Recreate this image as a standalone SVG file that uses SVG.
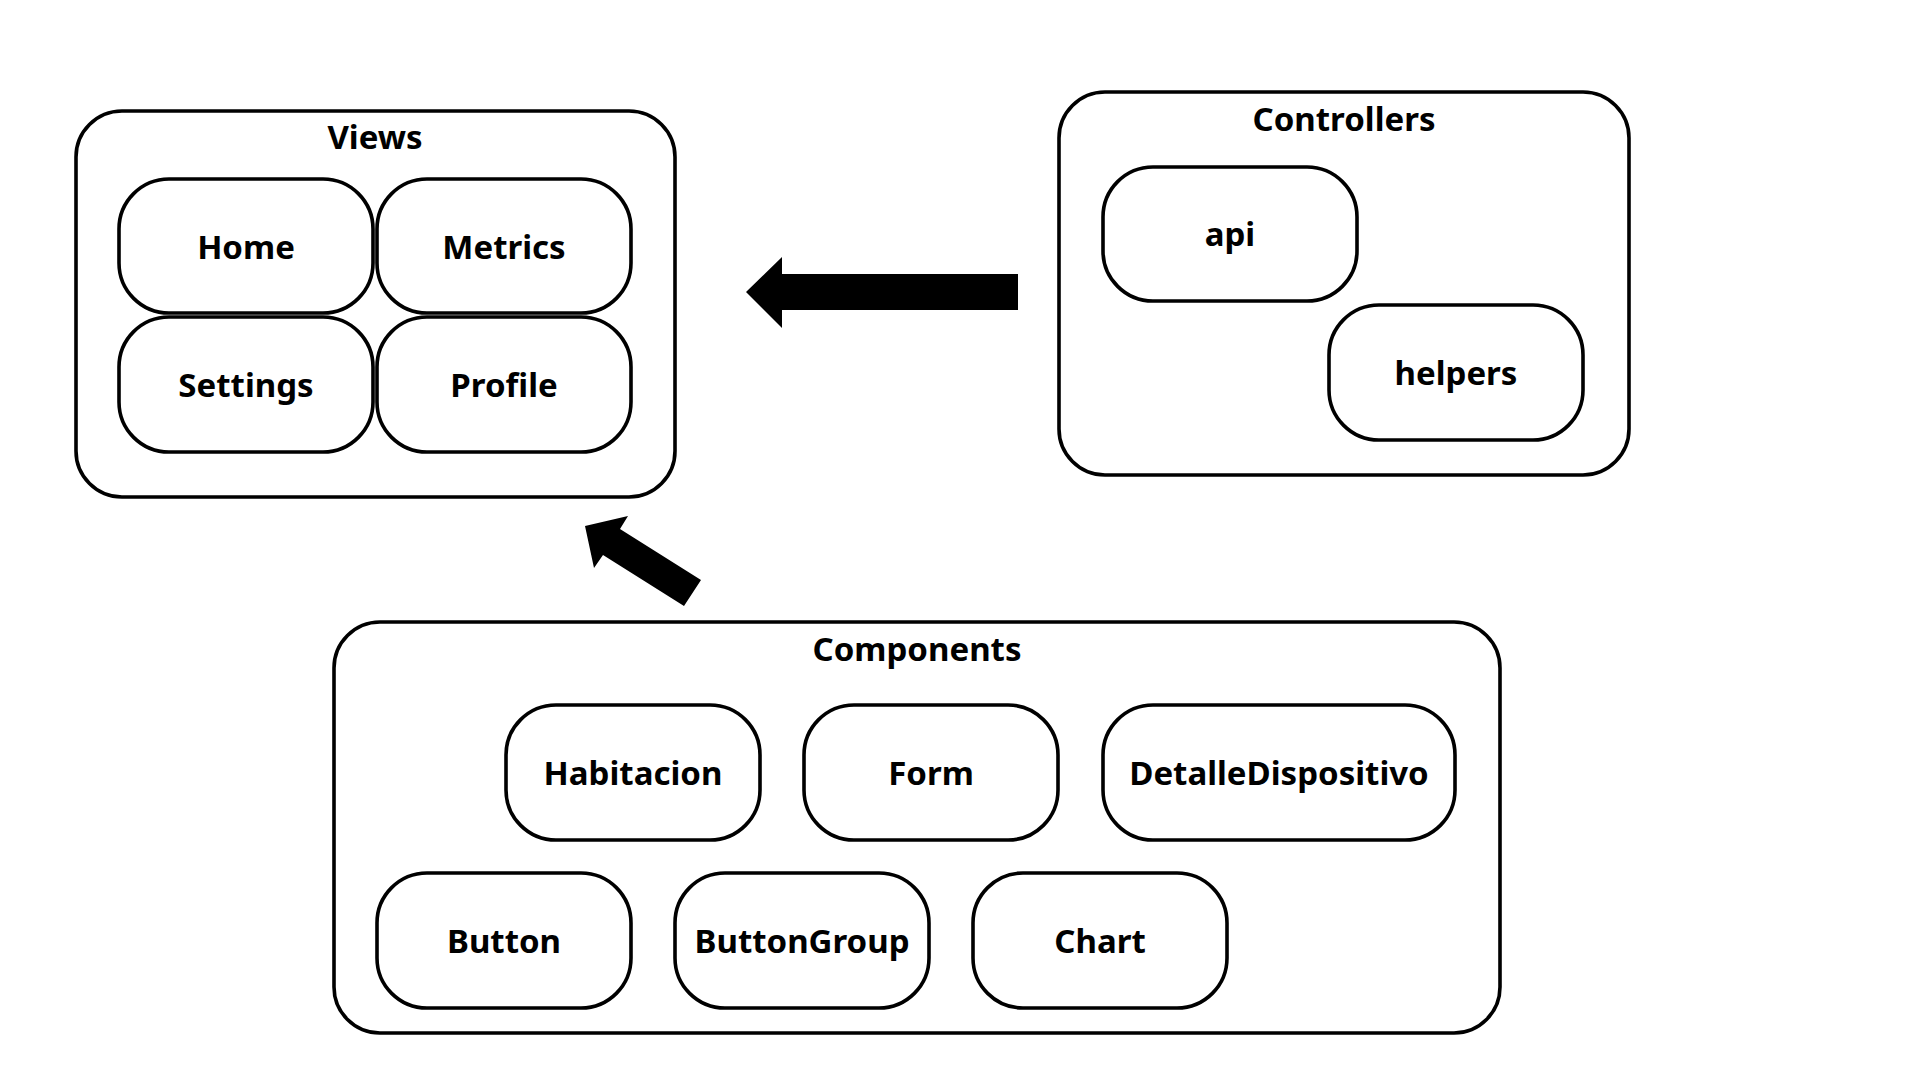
<svg xmlns="http://www.w3.org/2000/svg" width="1920" height="1080" viewBox="0 0 1920 1080">
<style>
.box{fill:#fff;stroke:#000;stroke-width:3.6}
.t{font-family:"Noto Sans","Open Sans",sans-serif;font-weight:bold;font-size:33px;fill:#000;text-anchor:middle;dominant-baseline:central}
.arrow{fill:#000}
</style>
<rect width="1920" height="1080" fill="#fff"/>
<g id="views">
<rect class="box" x="76" y="111" width="599" height="386" rx="46"/>
<text class="t" x="375" y="136">Views</text>
</g>
<g id="home"><rect class="box" x="119" y="179" width="254" height="134" rx="50"/><text class="t" x="246" y="246">Home</text></g>
<g id="metrics"><rect class="box" x="377" y="179" width="254" height="134" rx="50"/><text class="t" x="504" y="246">Metrics</text></g>
<g id="settings"><rect class="box" x="119" y="317" width="254" height="135" rx="50"/><text class="t" x="246" y="384">Settings</text></g>
<g id="profile"><rect class="box" x="377" y="317" width="254" height="135" rx="50"/><text class="t" x="504" y="384">Profile</text></g>

<g id="controllers">
<rect class="box" x="1059" y="92" width="570" height="383" rx="46"/>
<text class="t" x="1344" y="118">Controllers</text>
</g>
<g id="api"><rect class="box" x="1103" y="167" width="254" height="134" rx="50"/><text class="t" x="1230" y="233">api</text></g>
<g id="helpers"><rect class="box" x="1329" y="305" width="254" height="135" rx="50"/><text class="t" x="1456" y="372">helpers</text></g>

<g id="components">
<rect class="box" x="334" y="622" width="1166" height="411" rx="46"/>
<text class="t" x="917" y="648">Components</text>
</g>
<g id="habitacion"><rect class="box" x="506" y="705" width="254" height="135" rx="50"/><text class="t" x="633" y="772">Habitacion</text></g>
<g id="form"><rect class="box" x="804" y="705" width="254" height="135" rx="50"/><text class="t" x="931" y="772">Form</text></g>
<g id="detalle"><rect class="box" x="1103" y="705" width="352" height="135" rx="50"/><text class="t" x="1279" y="772">DetalleDispositivo</text></g>
<g id="button"><rect class="box" x="377" y="873" width="254" height="135" rx="50"/><text class="t" x="504" y="940">Button</text></g>
<g id="buttongroup"><rect class="box" x="675" y="873" width="254" height="135" rx="50"/><text class="t" x="802" y="940">ButtonGroup</text></g>
<g id="chart"><rect class="box" x="973" y="873" width="254" height="135" rx="50"/><text class="t" x="1100" y="940">Chart</text></g>

<g id="connectors">
<polygon class="arrow" points="1018,274 782,274 782,257 746,292 782,328 782,310 1018,310"/>
<polygon class="arrow" points="701,580 620,529 628,516 585,526 594,568 603,555 684,606"/>
</g>
</svg>
